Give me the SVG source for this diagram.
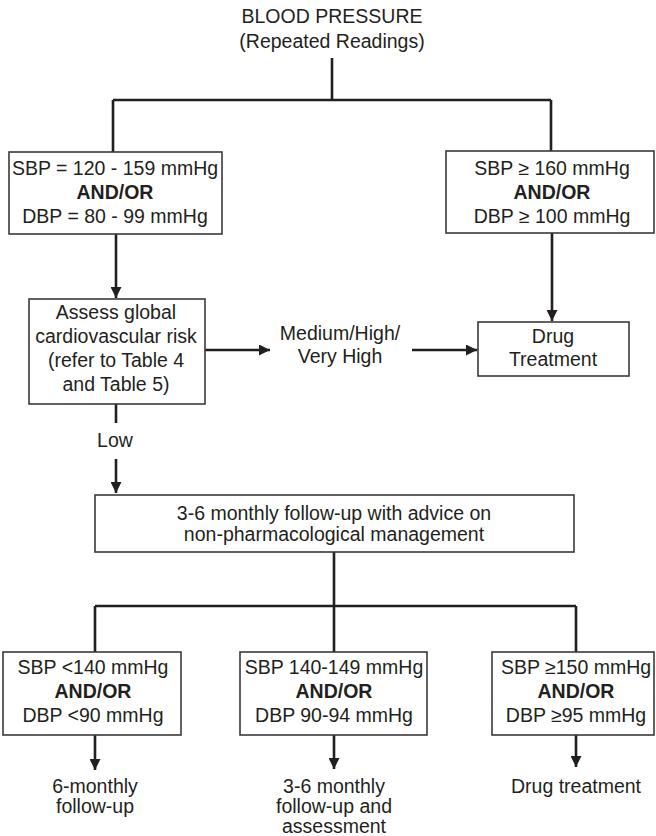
<svg xmlns="http://www.w3.org/2000/svg" width="656" height="836" viewBox="0 0 656 836">
<style>
text{font-family:"Liberation Sans",Arial,Helvetica,sans-serif;font-size:19.5px;fill:#231f20;text-anchor:middle}
.b{font-weight:bold}
.box{fill:#fff;stroke:#3a3a3a;stroke-width:1.6}
.ln{fill:none;stroke:#231f20;stroke-width:2.6}
.ar{fill:none;stroke:#231f20;stroke-width:2.6;marker-end:url(#ah)}
</style>
<defs>
<marker id="ah" viewBox="0 0 10 10" refX="10" refY="5" markerUnits="userSpaceOnUse" markerWidth="11" markerHeight="11" orient="auto">
<path d="M0,0 L10,5 L0,10 z" fill="#231f20"/>
</marker>
</defs>
<rect width="656" height="836" fill="#fff"/>
<g id="connectors">
<path class="ln" d="M332,58 V100 M113,100 H551 M113,100 V152 M551,100 V151"/>
<path class="ar" d="M116,234 V298"/>
<path class="ar" d="M552,233 V321"/>
<path class="ar" d="M205,350 H270"/>
<path class="ar" d="M412,350 H477"/>
<path class="ln" d="M116,404 V423"/>
<path class="ar" d="M116,459 V493"/>
<path class="ln" d="M334,552 V606 M95,606 H576 M95,606 V652 M334,606 V652 M576,606 V652"/>
<path class="ar" d="M95,735 V770"/>
<path class="ar" d="M334,735 V769"/>
<path class="ar" d="M576,735 V767"/>
</g>
<g id="title">
<text x="332" y="23">BLOOD PRESSURE</text>
<text x="332" y="48">(Repeated Readings)</text>
</g>
<g id="left-bp">
<rect class="box" x="9" y="152" width="213" height="82"/>
<text x="115" y="175">SBP = 120 - 159 mmHg</text>
<text x="115" y="199" class="b">AND/OR</text>
<text x="115" y="223">DBP = 80 - 99 mmHg</text>
</g>
<g id="right-bp">
<rect class="box" x="446" y="151" width="208" height="82"/>
<text x="552" y="175">SBP ≥ 160 mmHg</text>
<text x="552" y="199" class="b">AND/OR</text>
<text x="552" y="223">DBP ≥ 100 mmHg</text>
</g>
<g id="assess">
<rect class="box" x="29" y="299" width="176" height="105"/>
<text x="116" y="319">Assess global</text>
<text x="116" y="343">cardiovascular risk</text>
<text x="116" y="367">(refer to Table 4</text>
<text x="116" y="391">and Table 5)</text>
</g>
<g id="risk-label">
<text x="340" y="340">Medium/High/</text>
<text x="340" y="363">Very High</text>
</g>
<g id="drug">
<rect class="box" x="478" y="322" width="151" height="54"/>
<text x="553" y="343">Drug</text>
<text x="553" y="366">Treatment</text>
</g>
<g id="low-label">
<text x="115" y="447">Low</text>
</g>
<g id="followup">
<rect class="box" x="95" y="495" width="479" height="57"/>
<text x="334" y="520">3-6 monthly follow-up with advice on</text>
<text x="334" y="541">non-pharmacological management</text>
</g>
<g id="bottom-left">
<rect class="box" x="3" y="652" width="178" height="83"/>
<text x="93" y="674">SBP &lt;140 mmHg</text>
<text x="93" y="698" class="b">AND/OR</text>
<text x="93" y="722">DBP &lt;90 mmHg</text>
</g>
<g id="bottom-mid">
<rect class="box" x="240" y="652" width="187" height="83"/>
<text x="334" y="674">SBP 140-149 mmHg</text>
<text x="334" y="698" class="b">AND/OR</text>
<text x="334" y="722">DBP 90-94 mmHg</text>
</g>
<g id="bottom-right">
<rect class="box" x="492" y="652" width="162" height="83"/>
<text x="576" y="674">SBP ≥150 mmHg</text>
<text x="576" y="698" class="b">AND/OR</text>
<text x="576" y="722">DBP ≥95 mmHg</text>
</g>
<g id="out-left">
<text x="95" y="793">6-monthly</text>
<text x="95" y="813">follow-up</text>
</g>
<g id="out-mid">
<text x="334" y="793">3-6 monthly</text>
<text x="334" y="813">follow-up and</text>
<text x="334" y="833">assessment</text>
</g>
<g id="out-right">
<text x="576" y="793">Drug treatment</text>
</g>
</svg>
